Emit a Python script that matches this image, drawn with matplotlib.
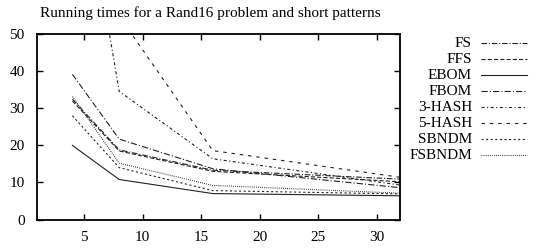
import matplotlib
matplotlib.use("Agg")
import matplotlib.pyplot as plt
from matplotlib.lines import Line2D

plt.rcParams['font.family'] = ['Liberation Serif', 'DejaVu Serif']
plt.rcParams['lines.scale_dashes'] = False

# Data
x_vals = [4, 8, 16, 32]
series_names = ["FS", "FFS", "EBOM", "FBOM", "3-HASH", "5-HASH", "SBNDM", "FSBNDM"]
fs_vals = [32.5, 18.8, 13.3, 10.9]
ffs_vals = [32.0, 18.5, 13.0, 10.2]
ebom_vals = [20.0, 10.8, 7.0, 6.4]
fbom_vals = [39.2, 21.7, 13.7, 8.6]
hash3_vals = [109.0, 34.6, 16.4, 9.3]
hash5_vals = [150.0, 54.9, 18.6, 11.4]
sbndm_vals = [28.0, 14.0, 7.8, 6.9]
fsbndm_vals = [33.2, 15.2, 9.2, 7.1]
x_ticks = [5, 10, 15, 20, 25, 30]
y_ticks = [0, 10, 20, 30, 40, 50]
title = "Running times for a Rand16 problem and short patterns"

all_vals = [fs_vals, ffs_vals, ebom_vals, fbom_vals, hash3_vals, hash5_vals, sbndm_vals, fsbndm_vals]
styles = [
    (0, (4, 1.3, 0.8, 1.3)),        # FS
    (0, (3, 1.5)),                  # FFS
    'solid',                        # EBOM
    (0, (4.5, 1.5, 0.8, 1.5)),      # FBOM
    (0, (2.2, 1.8, 0.8, 1.8)),      # 3-HASH
    (0, (2.5, 3.5)),                # 5-HASH
    (0, (1.5, 1.8)),                # SBNDM
    (0, (0.6, 0.9)),                # FSBNDM
]

fig = plt.figure(figsize=(5.4, 2.49), dpi=100)
ax = fig.add_axes([37.3/540, 1-219.5/249, (400-37.3)/540, (219.5-34.3)/249])

for vals, ls in zip(all_vals, styles):
    ax.plot(x_vals, vals, color='#222222', lw=0.8, linestyle=ls)

ax.set_xlim(1, 32)
ax.set_ylim(0, 50)
ax.set_xticks(x_ticks)
ax.set_yticks(y_ticks)
ax.tick_params(direction='in', length=4, width=1, top=True, right=True,
               labelsize=11)
ax.tick_params(axis='x', pad=8)
ax.tick_params(axis='y', pad=9)
for sp in ax.spines.values():
    sp.set_linewidth(1.3)

fig.text(210/540, 1-13/249, title, ha='center', va='center', fontsize=11)

# manual legend (gnuplot style: right aligned labels, sample to the right)
for i, (name, ls) in enumerate(zip(series_names, styles)):
    yy = 1 - (43.5 + i*15.95)/249
    fig.text(472/540, yy, name, ha='right', va='center', fontsize=11)
    fig.add_artist(Line2D([481/540, 527/540], [yy, yy], color='#222222',
                          lw=0.8, linestyle=ls, transform=fig.transFigure))

fig.savefig("out.png", dpi=100)
